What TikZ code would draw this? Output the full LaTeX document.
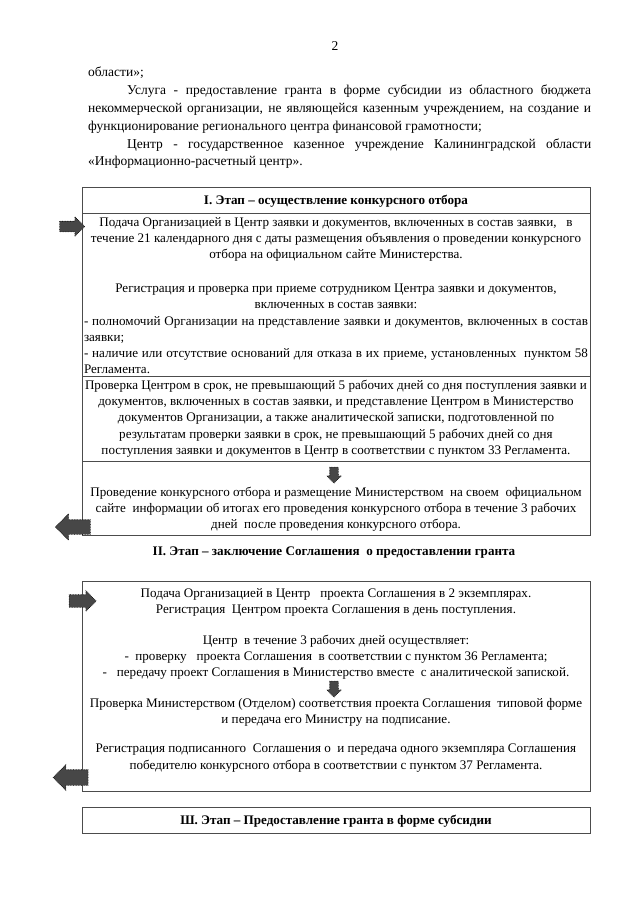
\documentclass[tikz,border=0pt]{standalone}
\usepackage{fontspec}
\setmainfont{Liberation Serif}
\usetikzlibrary{shapes.arrows}
\usetikzlibrary{positioning}

\newcommand{\boxfont}{\fontsize{13.1}{16.2}\selectfont}
\newcommand{\bodyfont}{\fontsize{13.5}{17.8}\selectfont}

\begin{document}
\begin{tikzpicture}[x=1pt,y=-1pt,
  every node/.style={inner sep=0pt,font=\boxfont},
  stageline/.style={draw=black!70,line width=0.8pt},
  boxtext/.style={align=center,anchor=north},
  titletext/.style={anchor=base,font=\boxfont\bfseries},
  blockarrow/.style={single arrow,draw=black,densely dotted,line width=0.6pt,
    fill=black!72}
]
\useasboundingbox (0,0) rectangle (640,905);

% page head
\node[anchor=base,font=\bodyfont] (pageno) at (335,50) {2};
\node[anchor=north west,align=left,font=\bodyfont] (intro) at (88,67) {%
  области»;\\
  \hspace*{39pt}\makebox[464pt][s]{Услуга - предоставление гранта в форме субсидии из областного бюджета}\\
  \makebox[503pt][s]{некоммерческой организации, не являющейся казенным учреждением, на создание и}\\
  функционирование регионального центра финансовой грамотности;\\
  \hspace*{39pt}\makebox[464pt][s]{Центр - государственное казенное учреждение Калининградской области}\\
  «Информационно-расчетный центр».};

% stage I
\draw[stageline] (82,187) rectangle (590,535);
\draw[stageline] (82,213) -- (590,213);
\draw[stageline] (82,376) -- (590,376);
\draw[stageline] (82,461) -- (590,461);
\node[titletext] (head1) at (336,204) {I. Этап – осуществление конкурсного отбора};
\node[boxtext] (submit) at (336,217) {%
  Подача Организацией в Центр заявки и документов, включенных в состав заявки,~~~в\\
  течение 21 календарного дня с даты размещения объявления о проведении конкурсного\\
  отбора на официальном сайте Министерства.};
\node[boxtext] (register) at (336,284) {%
  Регистрация и проверка при приеме сотрудником Центра заявки и документов,\\
  включенных в состав заявки:\\
  \makebox[504pt][s]{- полномочий Организации на представление заявки и документов, включенных в состав}\\
  \makebox[504pt][l]{заявки;}\\
  \makebox[504pt][s]{- наличие или отсутствие оснований для отказа в их приеме, установленных~~пунктом 58}\\
  \makebox[504pt][l]{Регламента.}};
\node[boxtext] (check) at (336,380) {%
  Проверка Центром в срок, не превышающий 5 рабочих дней со дня поступления заявки и\\
  документов, включенных в состав заявки, и представление Центром в Министерство\\
  документов Организации, а также аналитической записки, подготовленной по\\
  результатам проверки заявки в срок, не превышающий 5 рабочих дней со дня\\
  поступления заявки и документов в Центр в соответствии с пунктом 33 Регламента.};
\node[boxtext] (contest) at (336,487) {%
  Проведение конкурсного отбора и размещение Министерством~~на своем~~официальном\\
  сайте~~информации об итогах его проведения конкурсного отбора в течение 3 рабочих\\
  дней~~после проведения конкурсного отбора.};
\node[blockarrow,inner sep=5pt,single arrow head extend=4.5pt,minimum height=25pt] (in1) at (69.5,226.5) {};
\node[blockarrow,inner sep=4pt,single arrow head extend=3pt,minimum height=16pt,rotate=-90] (down1) at (334,473) {};
\node[blockarrow,inner sep=7pt,single arrow head extend=6pt,minimum height=35pt,rotate=180] (out1) at (76.5,527) {};

% stage II
\node[titletext] (head2) at (334,555) {II. Этап – заключение Соглашения~~о предоставлении гранта};
\draw[stageline] (82,581) rectangle (590,791);
\node[boxtext] (draft) at (336,588) {%
  Подача Организацией в Центр~~~проекта Соглашения в 2 экземплярах.\\
  Регистрация~~Центром проекта Соглашения в день поступления.};
\node[boxtext] (centre) at (336,635) {%
  Центр~~в течение 3 рабочих дней осуществляет:\\
  -~~проверку~~~проекта Соглашения~~в соответствии с пунктом 36 Регламента;\\
  -~~~передачу проект Соглашения в Министерство вместе~~с аналитической запиской.};
\node[boxtext] (ministry) at (336,698) {%
  Проверка Министерством (Отделом) соответствия проекта Соглашения~~типовой форме\\
  и передача его Министру на подписание.};
\node[boxtext] (signed) at (336,744) {%
  Регистрация подписанного~~Соглашения о~~и передача одного экземпляра Соглашения\\
  победителю конкурсного отбора в соответствии с пунктом 37 Регламента.};
\node[blockarrow,inner sep=6pt,single arrow head extend=4pt,minimum height=27pt] (in2) at (79.5,601) {};
\node[blockarrow,inner sep=4pt,single arrow head extend=3pt,minimum height=16pt,rotate=-90] (down2) at (334,687) {};
\node[blockarrow,inner sep=7.5pt,single arrow head extend=5pt,minimum height=35pt,rotate=180] (out2) at (74.5,777.5) {};

% stage III
\draw[stageline] (82,807) rectangle (590,833);
\node[titletext] (head3) at (336,824) {Ш. Этап – Предоставление гранта в форме субсидии};
\end{tikzpicture}
\end{document}
